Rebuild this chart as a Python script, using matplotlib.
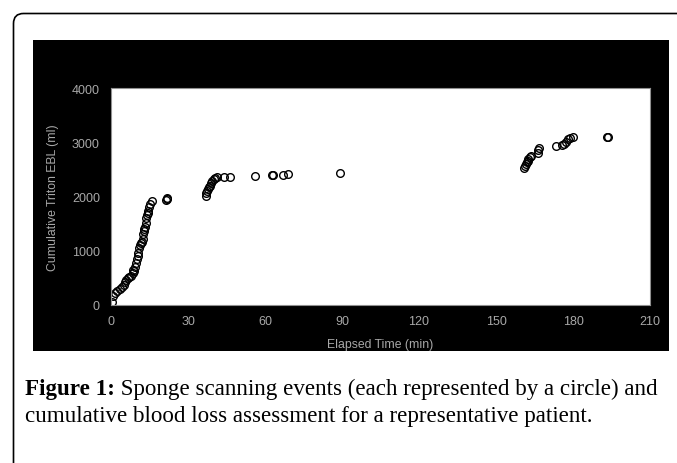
import matplotlib
matplotlib.use("Agg")
import matplotlib.pyplot as plt
from matplotlib.patches import Rectangle, FancyBboxPatch

# elapsed time (min) of each sponge scan and the cumulative EBL (ml)
elapsed_min = [
    0.3, 0.9, 1.6, 2.5, 3.4, 4.3, 5.0, 5.5, 6.0, 6.6, 7.2, 7.9, 8.4, 8.7, 9.0,
    9.4, 9.8, 10.1, 10.4, 10.7, 11.0, 11.3, 11.6, 12.0, 12.3, 12.6, 12.8, 13.0,
    13.2, 13.5, 13.8, 14.0, 14.3, 14.5, 14.8, 15.3, 16.1,
    21.5, 21.8, 22.0,
    37.0, 37.1, 37.3, 37.6, 38.0, 38.5, 39.0, 39.5, 40.0, 40.5, 41.2,
    44.0, 46.3, 56.1, 62.8, 63.3, 67.1, 69.1, 89.2,
    161.1, 161.3, 161.6, 161.9, 162.3, 162.6, 163.2, 163.8, 166.2, 166.5, 166.8,
    173.2, 175.6, 176.6, 177.3, 178.2, 178.8, 180.0, 193.1, 193.8,
]
cumulative_ebl = [
    60, 170, 220, 250, 300, 330, 360, 420, 470, 500, 510, 540, 590, 640, 620,
    700, 780, 850, 900, 960, 1050, 1100, 1140, 1170, 1220, 1300, 1360, 1400,
    1440, 1520, 1600, 1650, 1700, 1740, 1800, 1860, 1920,
    1930, 1960, 1975,
    2010, 2060, 2100, 2140, 2170, 2200, 2250, 2290, 2320, 2350, 2355,
    2355, 2355, 2380, 2390, 2400, 2405, 2420, 2430,
    2520, 2560, 2600, 2630, 2660, 2690, 2720, 2750, 2800, 2850, 2900,
    2930, 2950, 2970, 3000, 3060, 3080, 3100, 3105, 3105,
]
x_ticks = [0, 30, 60, 90, 120, 150, 180, 210]
y_ticks = [0, 1000, 2000, 3000, 4000]

W, H = 677, 464
fig = plt.figure(figsize=(W / 100, H / 100), dpi=100)
fig.patch.set_facecolor("white")

# page decoration: frame, black panel, caption (pixel coordinates)
bg = fig.add_axes([0, 0, 1, 1])
bg.set_xlim(0, W)
bg.set_ylim(H, 0)
bg.axis("off")
bg.add_patch(FancyBboxPatch((13.5, 14.5), 700, 500,
                            boxstyle="round,pad=0,rounding_size=10",
                            fc="white", ec="black", lw=1.2))
bg.add_patch(Rectangle((33, 41), 636, 311, fc="black", ec="none"))

serif = ["Liberation Serif", "DejaVu Serif"]
t1 = bg.text(25, 395, "Figure 1:", fontsize=16.6, fontweight="bold",
             family=serif, va="baseline", ha="left")
bg.annotate(" Sponge scanning events (each represented by a circle) and",
            xy=(1, 0), xycoords=t1, fontsize=16.6, family=serif,
            va="bottom", ha="left")
bg.text(25, 422, "cumulative blood loss assessment for a representative patient.",
        fontsize=16.6, family=serif, va="baseline", ha="left")

# the chart
ax = fig.add_axes([111 / W, 1 - 306 / H, (650 - 111) / W, (306 - 89) / H])
ax.set_facecolor("white")
ax.plot(elapsed_min, cumulative_ebl, "o", mfc="none", mec="black",
        ms=5.5, mew=1.0, clip_on=False)
ax.set_xlim(0, 210)
ax.set_ylim(0, 4000)
ax.set_xticks(x_ticks)
ax.set_yticks(y_ticks)
grey = "#a8a8a8"
ax.tick_params(length=0, colors=grey, labelsize=9)
ax.tick_params(axis="x", pad=7)
ax.tick_params(axis="y", pad=8)
for lab in ax.get_xticklabels() + ax.get_yticklabels():
    lab.set_family("Liberation Sans")
for s in ax.spines.values():
    s.set_color("#909090")
    s.set_linewidth(0.8)
ax.set_xlabel("Elapsed Time (min)", color=grey, fontsize=8.8,
              family="Liberation Sans", labelpad=8)
ax.set_ylabel("Cumulative Triton EBL (ml)", color=grey, fontsize=8.8,
              family="Liberation Sans", labelpad=9)

fig.savefig("out.png", dpi=100, facecolor="white")
